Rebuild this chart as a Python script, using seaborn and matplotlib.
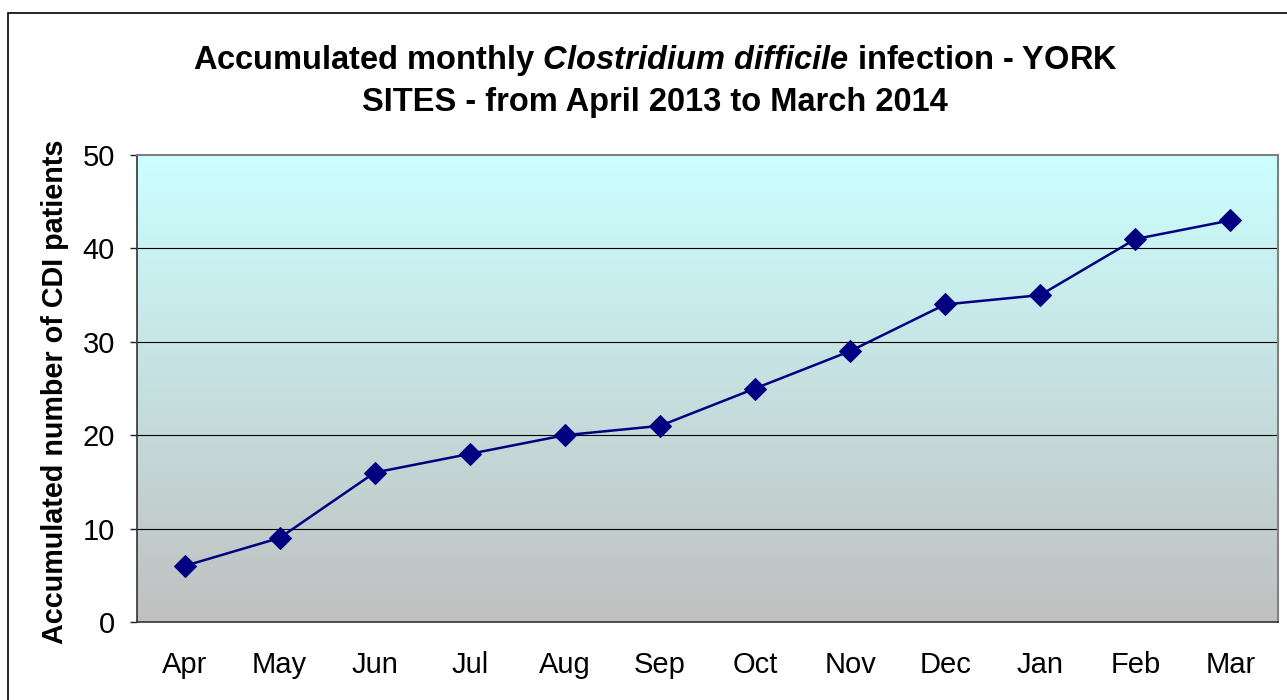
import numpy as np
import pandas as pd
import matplotlib
matplotlib.use("Agg")
import matplotlib.pyplot as plt
from matplotlib.colors import LinearSegmentedColormap
from matplotlib.patches import Rectangle
import seaborn as sns

months = ["Apr", "May", "Jun", "Jul", "Aug", "Sep", "Oct", "Nov", "Dec", "Jan", "Feb", "Mar"]
cumulative_cdi = [6, 9, 16, 18, 20, 21, 25, 29, 34, 35, 41, 43]
y_ticks = [0, 10, 20, 30, 40, 50]

sns.set_theme(style="white")
plt.rcParams["font.family"] = ["Liberation Sans", "DejaVu Sans"]
plt.rcParams["mathtext.fontset"] = "custom"
plt.rcParams["mathtext.it"] = "Liberation Sans:italic:bold"
plt.rcParams["mathtext.rm"] = "Liberation Sans:bold"
for key in ["text.color", "axes.labelcolor", "xtick.color", "ytick.color"]:
    plt.rcParams[key] = "black"

fig = plt.figure(figsize=(12.87, 7.0), dpi=100)
ax = fig.add_axes([137 / 1287, 1 - 622 / 700, (1278 - 137) / 1287, (622 - 155) / 700])

# vertical gradient background: pale cyan at top fading to grey at bottom
grad = LinearSegmentedColormap.from_list("bg", ["#c0c0c0", "#ccffff"])
ax.imshow(np.linspace(0, 1, 256).reshape(-1, 1), cmap=grad, origin="lower",
          aspect="auto", extent=[0, 1, 0, 1], transform=ax.transAxes, zorder=0)

df = pd.DataFrame({"month": months, "cases": cumulative_cdi})
df["pos"] = np.arange(len(months))
sns.lineplot(data=df, x="pos", y="cases", ax=ax, sort=False, color="#000080",
             linewidth=1.8, marker="D", markersize=11.5, markeredgecolor="#000080",
             zorder=3)

ax.set_xlim(-0.5, len(months) - 0.5)
ax.set_ylim(0, 50)
ax.set_yticks(y_ticks)
ax.set_yticklabels([str(v) for v in y_ticks], fontsize=21)
ax.set_xticks(df["pos"])
ax.set_xticklabels(months, fontsize=21)
ax.set_xticks(np.arange(-0.5, len(months)), minor=True)
ax.tick_params(axis="x", which="major", length=0, pad=21, colors="black")
ax.tick_params(axis="x", which="minor", length=5, width=1, color="#222222", direction="out")
ax.tick_params(axis="y", which="major", length=5, width=1, color="#222222",
               direction="out", left=True, pad=11, labelcolor="black")
ax.set_xlabel("")
ax.set_ylabel("Accumulated number of CDI patients", fontsize=20.7, fontweight="bold",
              color="black")
ax.yaxis.label.set_va("center")
ax.yaxis.set_label_coords((55 - 137) / 1141, (622 - 392) / 467)

for v in y_ticks[1:-1]:
    ax.axhline(v, color="black", linewidth=0.8, zorder=1)

for side in ["left", "bottom"]:
    ax.spines[side].set_color("#333333")
    ax.spines[side].set_linewidth(1.2)
for side in ["top", "right"]:
    ax.spines[side].set_color("#808080")
    ax.spines[side].set_linewidth(1.5)

fig.text(655 / 1287, 1 - 60 / 700,
         r"Accumulated monthly $\mathit{Clostridium\ difficile}$ infection - YORK",
         ha="center", va="center", fontsize=23.5, fontweight="bold", color="black")
fig.text(655 / 1287, 1 - 103 / 700, "SITES - from April 2013 to March 2014",
         ha="center", va="center", fontsize=23.5, fontweight="bold", color="black")

# outer chart frame
fig.patches.append(Rectangle((8 / 1287, -0.05), 1.1, 1 - 13 / 700 + 0.05,
                             transform=fig.transFigure, fill=False,
                             edgecolor="black", linewidth=1.2))

fig.savefig("out.png", dpi=100)
